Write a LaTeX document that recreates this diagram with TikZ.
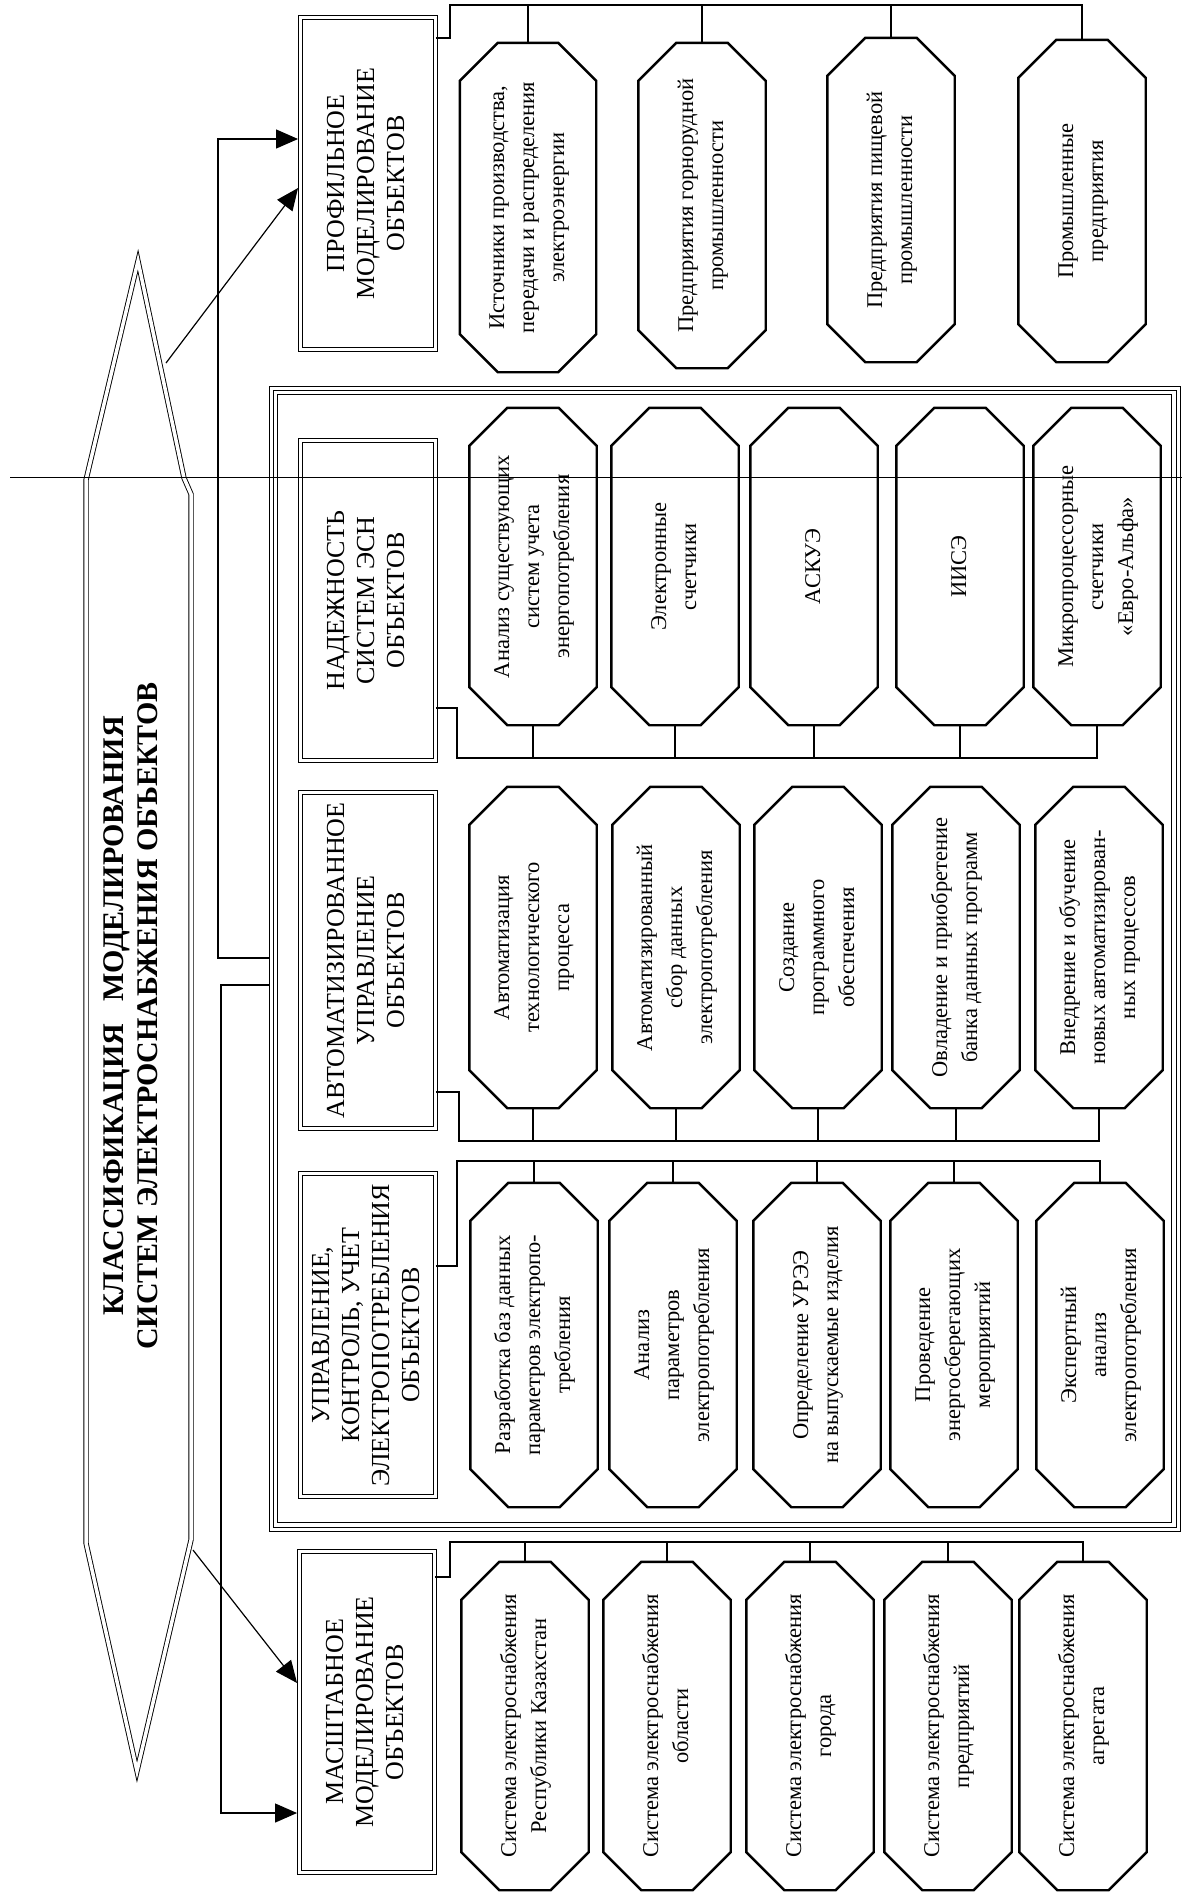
\documentclass[tikz,border=0pt]{standalone}
\usepackage{fontspec}
\setmainfont{Liberation Serif}
\usetikzlibrary{arrows.meta,calc}
\tikzset{
  oct/.style={draw=none, inner sep=0pt, minimum width=127pt, font=\fontsize{22.5}{30}\selectfont},
  octline/.style={line width=2.4pt, line join=miter},
  cat/.style={draw, double, double distance=3pt, line width=0.9pt, inner sep=0pt, minimum width=135pt, font=\fontsize{26}{30}\selectfont},
  bus/.style={line width=2.4pt},
  arr/.style={line width=1.2pt, -{Triangle[length=22pt,width=19pt]}},
  thinl/.style={line width=1pt},
}
\newcommand\rt[1]{\rotatebox{90}{\begin{tabular}{@{}c@{}}#1\end{tabular}}}
\newcommand\octo[1]{\draw[octline] ([xshift=38pt]#1.north west) -- ([xshift=-38pt]#1.north east) -- ([yshift=-38pt]#1.north east) -- ([yshift=38pt]#1.south east) -- ([xshift=-38pt]#1.south east) -- ([xshift=38pt]#1.south west) -- ([yshift=38pt]#1.south west) -- ([yshift=-38pt]#1.north west) -- cycle;}
\begin{document}
\begin{tikzpicture}[x=1pt,y=-1pt]
\useasboundingbox (0,0) rectangle (1182,1898);

% title banner
\draw[double, double distance=3.5pt, line width=0.9pt, line join=miter] (138,261) -- (184,478) -- (191,494) -- (191,1540) -- (137,1771) -- (86,1543) -- (86,480) -- cycle;
\node[font=\fontsize{30}{34}\selectfont\bfseries, inner sep=0pt] (title) at (134,1016) {\rt{КЛАССИФИКАЦИЯ\hspace{22pt}МОДЕЛИРОВАНИЯ\\СИСТЕМ ЭЛЕКТРОСНАБЖЕНИЯ ОБЪЕКТОВ}};
\coordinate (tA) at (166,363);
\coordinate (tB) at (193,1550);

% big frame
\node[draw, thinl, minimum width=911pt, minimum height=1145pt, inner sep=0pt] (frame) at (724.5,958.5) {};
\draw[thinl] ([shift={(4.5pt,-4.5pt)}]frame.north west) rectangle ([shift={(-4.5pt,4.5pt)}]frame.south east);
\draw[thinl] ([shift={(9pt,-9pt)}]frame.north west) rectangle ([shift={(-9pt,9pt)}]frame.south east);

% category boxes
\node[cat, minimum height=332pt] (cP) at (368,183.5) {\rt{ПРОФИЛЬНОЕ\\МОДЕЛИРОВАНИЕ\\ОБЪЕКТОВ}};
\node[cat, minimum height=320pt] (cH) at (368,600.5) {\rt{НАДЕЖНОСТЬ\\СИСТЕМ ЭСН\\ОБЪЕКТОВ}};
\node[cat, minimum height=336pt] (cA) at (368,960.5) {\rt{АВТОМАТИЗИРОВАННОЕ\\УПРАВЛЕНИЕ\\ОБЪЕКТОВ}};
\node[cat, minimum height=323pt] (cU) at (368,1335) {\rt{УПРАВЛЕНИЕ,\\КОНТРОЛЬ, УЧЕТ\\ЭЛЕКТРОПОТРЕБЛЕНИЯ\\ОБЪЕКТОВ}};
\node[cat, minimum height=321pt] (cM) at (367,1712) {\rt{МАСШТАБНОЕ\\МОДЕЛИРОВАНИЕ\\ОБЪЕКТОВ}};

% profile octagons
\node[oct, minimum width=136pt, minimum height=329pt] (P1) at (528,207.5) {\rt{Источники производства,\\передачи и распределения\\электроэнергии}};
\node[oct, minimum height=325pt] (P2) at (702,205.5) {\rt{Предприятия горнорудной\\промышленности}};
\node[oct, minimum height=324pt] (P3) at (891,200) {\rt{Предприятия пищевой\\промышленности}};
\node[oct, minimum height=322pt] (P4) at (1082,201) {\rt{Промышленные\\предприятия}};

% reliability octagons
\node[oct, minimum height=317pt] (H1) at (533,566.5) {\rt{Анализ существующих\\систем учета\\энергопотребления}};
\node[oct, minimum height=317pt] (H2) at (675,566.5) {\rt{Электронные\\счетчики}};
\node[oct, minimum height=317pt] (H3) at (814,566.5) {\rt{АСКУЭ}};
\node[oct, minimum height=317pt] (H4) at (960,566.5) {\rt{ИИСЭ}};
\node[oct, minimum height=317pt] (H5) at (1097,566.5) {\rt{Микропроцессорные\\счетчики\\«Евро-Альфа»}};

% automation octagons
\node[oct, minimum height=321pt] (A1) at (533,947.5) {\rt{Автоматизация\\технологического\\процесса}};
\node[oct, minimum height=321pt] (A2) at (676,947.5) {\rt{Автоматизированный\\сбор данных\\электропотребления}};
\node[oct, minimum height=321pt] (A3) at (818,947.5) {\rt{Создание\\программного\\обеспечения}};
\node[oct, minimum height=321pt] (A4) at (956,947.5) {\rt{Овладение и приобретение\\банка данных программ}};
\node[oct, minimum height=321pt] (A5) at (1099,947.5) {\rt{Внедрение и обучение\\новых автоматизирован-\\ных процессов}};

% control octagons
\node[oct, minimum height=324pt] (U1) at (534,1345) {\rt{Разработка баз данных\\параметров электропо-\\требления}};
\node[oct, minimum height=324pt] (U2) at (673,1345) {\rt{Анализ\\параметров\\электропотребления}};
\node[oct, minimum height=324pt] (U3) at (817,1345) {\rt{Определение УРЭЭ\\на выпускаемые изделия}};
\node[oct, minimum height=324pt] (U4) at (954,1345) {\rt{Проведение\\энергосберегающих\\мероприятий}};
\node[oct, minimum height=324pt] (U5) at (1100,1345) {\rt{Экспертный\\анализ\\электропотребления}};

% scale octagons
\node[oct, minimum height=328pt] (M1) at (525,1726) {\rt{Система электроснабжения\\Республики Казахстан}};
\node[oct, minimum height=328pt] (M2) at (667,1726) {\rt{Система электроснабжения\\области}};
\node[oct, minimum height=328pt] (M3) at (810,1726) {\rt{Система электроснабжения\\города}};
\node[oct, minimum height=328pt] (M4) at (948,1726) {\rt{Система электроснабжения\\предприятий}};
\node[oct, minimum height=328pt] (M5) at (1083,1726) {\rt{Система электроснабжения\\агрегата}};

\foreach \n in {P1,P2,P3,P4,H1,H2,H3,H4,H5,A1,A2,A3,A4,A5,U1,U2,U3,U4,U5,M1,M2,M3,M4,M5} {\octo{\n}}

% buses
\draw[bus] (cP.east |- 0,38) -- (450,38) -- (450,5) -| (P4.north);
\foreach \n in {P1,P2,P3} {\draw[bus] (\n.north) -- (\n.north |- 0,5);}
\draw[bus] (cH.east |- 0,708) -- (457,708) -- (457,758) -| (H5.south);
\foreach \n in {H1,H2,H3,H4} {\draw[bus] (\n.south) -- (\n.south |- 0,758);}
\draw[bus] (cA.east |- 0,1092) -- (459,1092) -- (459,1141) -| (A5.south);
\foreach \n in {A1,A2,A3,A4} {\draw[bus] (\n.south) -- (\n.south |- 0,1141);}
\draw[bus] (cU.east |- 0,1266) -- (457,1266) -- (457,1161) -| (U5.north);
\foreach \n in {U1,U2,U3,U4} {\draw[bus] (\n.north) -- (\n.north |- 0,1161);}
\draw[bus] (cM.east |- 0,1577) -- (450,1577) -- (450,1542) -| (M5.north);
\foreach \n in {M1,M2,M3,M4} {\draw[bus] (\n.north) -- (\n.north |- 0,1542);}

% arrows
\draw[arr] (frame.west |- 0,958) -- (218,958) -- (218,139) -- ([xshift=-2pt]cP.west |- 0,139);
\draw[arr] (frame.west |- 0,985) -- (221,985) -- (221,1813) -- ([xshift=-2pt]cM.west |- 0,1813);
\draw[arr] (tA) -- ([xshift=-2pt]cP.west |- 0,188);
\draw[arr] (tB) -- ([xshift=-2pt]cM.west |- 0,1683);

% scan line
\coordinate (sL) at (10,477);
\coordinate (sR) at (1182,477);
\draw[thinl] (sL) -- (sR);
\end{tikzpicture}
\end{document}
